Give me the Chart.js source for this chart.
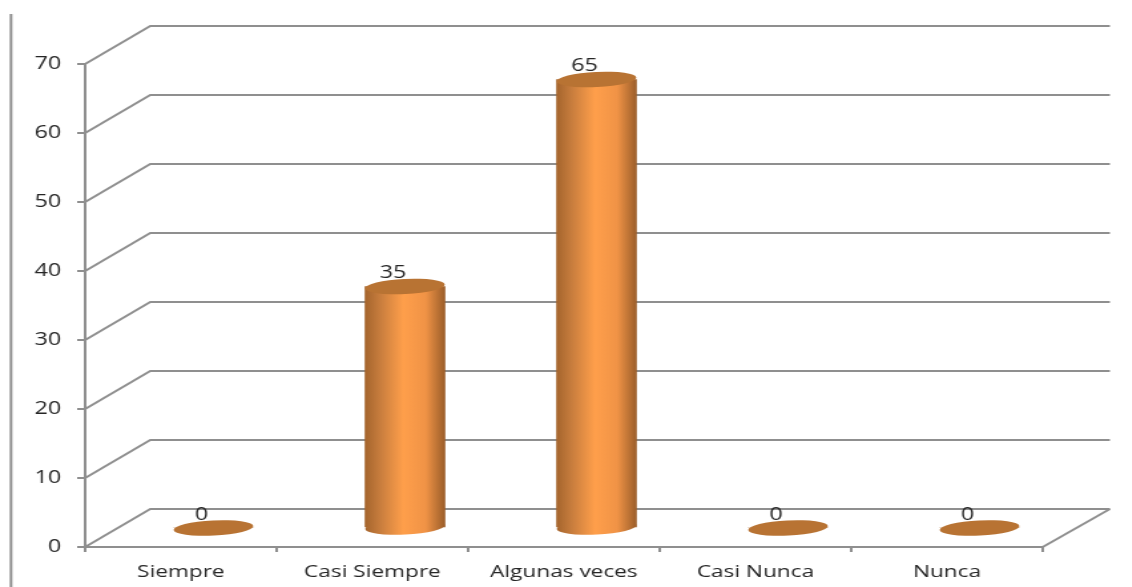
<!DOCTYPE html>
<html>
<head>
<meta charset="utf-8">
<script src="https://cdn.jsdelivr.net/npm/chart.js@4"></script>
<style>
  html, body { margin: 0; background: #fff; overflow: hidden; }
  /* the chart is laid out narrow and widened as a whole, so glyphs widen too */
  #chart { display: block; transform-origin: 0 0; transform: scaleX(1.33); }
</style>
</head>
<body>
<canvas id="chart" width="851" height="587"></canvas>
<script>
const categories = ["Siempre", "Casi Siempre", "Algunas veces", "Casi Nunca", "Nunca"];
const values = [0, 35, 65, 0, 0];

const gridColor = "#8f8f8f";
const textColor = "#262626";
const capColor = "#b87333";

// depth of the fake 3D box
const depthX = 49;
const depthY = 38;
const backRightExtra = 1.5;
// cylinders stand halfway into the box
const barShiftX = depthX / 2;
const barShiftY = depthY / 2;
const capRx = 30;
const capRy = 7.5;
const capTilt = -0.066;

function cylinderGradient(ctx, left, right) {
  const g = ctx.createLinearGradient(left, 0, right, 0);
  g.addColorStop(0, "#a5652d");
  g.addColorStop(0.18, "#c67c3d");
  g.addColorStop(0.48, "#ff9f4b");
  g.addColorStop(0.76, "#f09346");
  g.addColorStop(1, "#9c5e2a");
  return g;
}

function ellipse(ctx, x, y, fill) {
  ctx.beginPath();
  ctx.ellipse(x, y, capRx, capRy, capTilt, 0, Math.PI * 2);
  ctx.fillStyle = fill;
  ctx.fill();
}

const box3d = {
  id: "box3d",
  beforeDatasetsDraw(chart) {
    const { ctx, chartArea, scales } = chart;
    const y0 = scales.y.getPixelForValue(0);
    const right = chartArea.right + depthX + backRightExtra;
    ctx.save();
    ctx.strokeStyle = gridColor;
    ctx.lineWidth = 2;
    // outer line down the left of the figure
    ctx.beginPath();
    ctx.moveTo(8.3, 14);
    ctx.lineTo(8.3, 587);
    ctx.stroke();
    // side wall and back wall lines
    scales.y.ticks.forEach((t) => {
      const y = scales.y.getPixelForValue(t.value);
      ctx.beginPath();
      ctx.moveTo(chartArea.left, y);
      ctx.lineTo(chartArea.left + depthX, y - depthY);
      ctx.lineTo(right, y - depthY);
      ctx.stroke();
    });
    // right edge of the floor
    ctx.beginPath();
    ctx.moveTo(chartArea.right, y0);
    ctx.lineTo(right, y0 - depthY);
    ctx.stroke();
    ctx.restore();

    // base of each cylinder, then the bars get drawn shifted into the box
    ctx.save();
    ctx.translate(barShiftX, -barShiftY);
    chart.getDatasetMeta(0).data.forEach((bar, i) => {
      if (values[i] > 0) {
        ellipse(ctx, bar.x, bar.base, cylinderGradient(ctx, bar.x - capRx, bar.x + capRx));
      }
    });
  },
  afterDatasetsDraw(chart) {
    const { ctx } = chart;
    chart.getDatasetMeta(0).data.forEach((bar) => {
      ellipse(ctx, bar.x, bar.y, capColor);
    });
    ctx.restore();

    // value labels sit left of the cylinder centre
    ctx.save();
    ctx.font = '17.5px "Open Sans"';
    ctx.fillStyle = textColor;
    ctx.textAlign = "center";
    ctx.textBaseline = "middle";
    chart.getDatasetMeta(0).data.forEach((bar, i) => {
      ctx.fillText(values[i], bar.x + barShiftX - 9, bar.y - barShiftY - 13);
    });
    ctx.restore();
  },
};

new Chart(document.getElementById("chart"), {
  type: "bar",
  data: {
    labels: categories,
    datasets: [
      {
        data: values,
        barThickness: 60,
        borderWidth: 0,
        backgroundColor(c) {
          const area = c.chart.chartArea;
          if (!area) return "#ff9f4b";
          const x = c.chart.scales.x.getPixelForValue(c.dataIndex);
          return cylinderGradient(c.chart.ctx, x - capRx, x + capRx);
        },
      },
    ],
  },
  options: {
    responsive: false,
    animation: false,
    devicePixelRatio: 1,
    layout: { padding: { left: 0, top: 64, right: 67, bottom: 0 } },
    plugins: { legend: { display: false }, tooltip: { enabled: false } },
    scales: {
      x: {
        afterFit(s) { s.height = 40; },
        grid: {
          drawOnChartArea: false,
          color: gridColor,
          lineWidth: 2,
          tickLength: 5,
        },
        border: { color: gridColor, width: 2 },
        ticks: {
          color: textColor,
          font: { family: "Open Sans", size: 17 },
          padding: 10,
          maxRotation: 0,
        },
      },
      y: {
        min: 0,
        max: 70,
        afterFit(s) { s.width = 64; },
        grid: {
          drawOnChartArea: false,
          color: gridColor,
          lineWidth: 2,
          tickLength: 6,
        },
        border: { color: gridColor, width: 2 },
        ticks: {
          stepSize: 10,
          color: textColor,
          font: { family: "Open Sans", size: 17.5 },
          padding: 12,
        },
      },
    },
  },
  plugins: [box3d],
});
</script>
</body>
</html>
